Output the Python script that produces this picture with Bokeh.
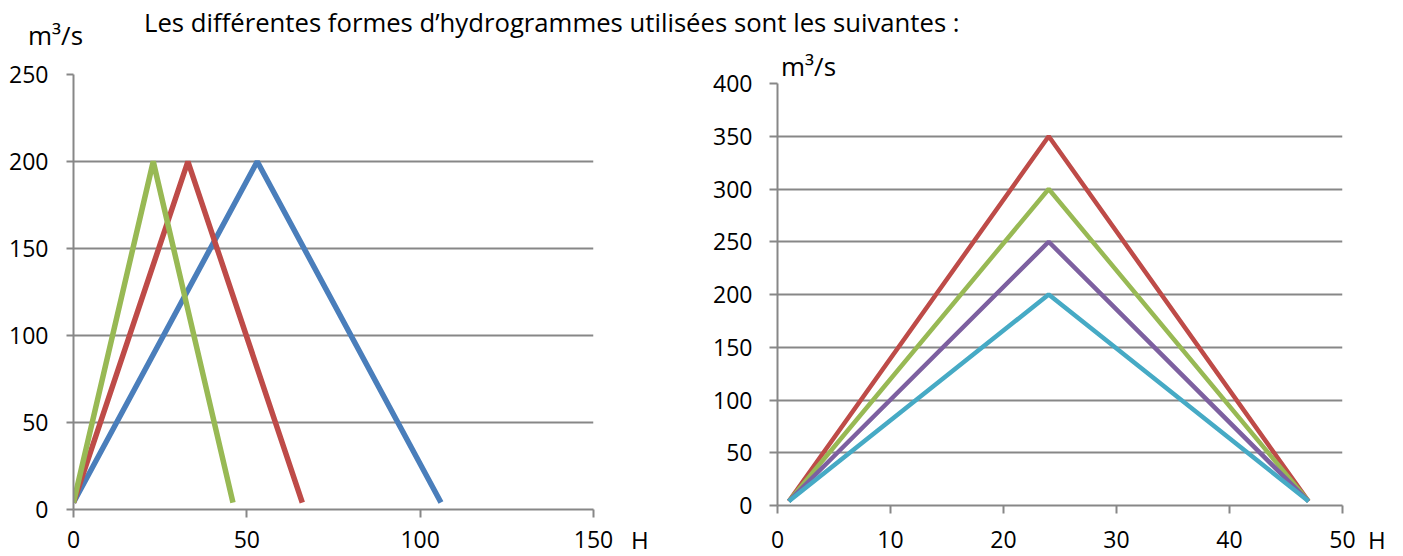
from bokeh.plotting import figure
from bokeh.models import Range1d, FixedTicker, ColumnDataSource
from bokeh.embed import file_html
from bokeh.resources import INLINE

# ---------------- data ----------------
title_text = "Les différentes formes d’hydrogrammes utilisées sont les suivantes :"
unit_text = "m³/s"
xunit_text = "H"

# left chart (hours, m3/s) - vertices of the triangular hydrographs
left_blue_x = [0, 53, 106]
left_blue_y = [4, 200, 4]
left_red_x = [0, 33, 66]
left_red_y = [4, 200, 4]
left_green_x = [0, 23, 46]
left_green_y = [4, 200, 4]
left_xticks = [0, 50, 100, 150]
left_yticks = [0, 50, 100, 150, 200, 250]

# right chart
right_x = [1, 24, 47]
right_red_y = [4, 350, 4]
right_green_y = [4, 300, 4]
right_purple_y = [4, 250, 4]
right_cyan_y = [4, 200, 4]
right_xticks = [0, 10, 20, 30, 40, 50]
right_yticks = [0, 50, 100, 150, 200, 250, 300, 350, 400]

# ---------------- style ----------------
GRID = "#878787"
FONT = "Open Sans"
FS = "23px"
BLUE = "#4A7EBB"
RED = "#BE4B48"
GREEN = "#98B954"
PURPLE = "#7D60A0"
CYAN = "#46AAC5"


def style(p, xticks, yticks):
    p.xgrid.visible = False
    p.ygrid.grid_line_color = GRID
    p.ygrid.grid_line_width = 2
    p.ygrid.ticker = FixedTicker(ticks=yticks)
    p.outline_line_color = None
    p.background_fill_color = "white"
    p.border_fill_color = "white"
    for ax in (p.xaxis[0], p.yaxis[0]):
        ax.axis_line_color = GRID
        ax.axis_line_width = 2
        ax.major_tick_line_color = GRID
        ax.major_tick_line_width = 2
        ax.major_tick_in = 0
        ax.minor_tick_line_color = None
        ax.major_label_text_font = FONT
        ax.major_label_text_font_size = FS
        ax.major_label_text_color = "black"
    p.xaxis[0].ticker = FixedTicker(ticks=xticks)
    p.yaxis[0].ticker = FixedTicker(ticks=yticks)
    p.xaxis[0].major_tick_out = 8


# ---------------- left chart ----------------
p1 = figure(frame_width=520, frame_height=435,
            min_border_left=73, min_border_right=40,
            min_border_top=74, min_border_bottom=47,
            x_range=Range1d(0, 150), y_range=Range1d(0, 250),
            output_backend="svg", toolbar_location=None)
style(p1, left_xticks, left_yticks)
p1.yaxis[0].major_tick_out = 7
p1.xaxis[0].major_label_standoff = 13
p1.yaxis[0].major_label_standoff = 18

for xs, ys, c in ((left_blue_x, left_blue_y, BLUE),
                  (left_red_x, left_red_y, RED),
                  (left_green_x, left_green_y, GREEN)):
    src = ColumnDataSource(dict(x=xs, y=ys))
    p1.line("x", "y", source=src, line_color=c, line_width=5.5)

# ---------------- right chart ----------------
p2 = figure(frame_width=565, frame_height=422,
            min_border_left=87, min_border_right=30,
            min_border_top=83, min_border_bottom=51,
            x_range=Range1d(0, 50), y_range=Range1d(0, 400),
            output_backend="svg", toolbar_location=None)
style(p2, right_xticks, right_yticks)
p2.yaxis[0].major_tick_out = 8
p2.xaxis[0].major_label_standoff = 17
p2.yaxis[0].major_label_standoff = 17

for ys, c in ((right_red_y, RED), (right_green_y, GREEN),
              (right_purple_y, PURPLE), (right_cyan_y, CYAN)):
    src = ColumnDataSource(dict(x=right_x, y=ys))
    p2.line("x", "y", source=src, line_color=c, line_width=4.5)

# ---------------- page: charts side by side, texts outside the frames ----------------
TEMPLATE = (
    "{% block postamble %}<style>"
    "body{overflow:hidden;}"
    ".chart{position:absolute;top:0;}"
    ".txt{position:absolute;z-index:10;font-family:'Open Sans';color:#000;"
    "white-space:nowrap;line-height:1;}"
    "</style>{% endblock %}"
    "{% block contents %}{% from macros import embed %}"
    "{% for root in roots %}"
    "<div class=\"chart\" style=\"left:{{ [0, 690][loop.index0] }}px;\">{{ embed(root) }}</div>"
    "{% endfor %}"
    "<div class=\"txt\" style=\"left:144px;top:10px;font-size:25.7px;\">" + title_text + "</div>"
    "<div class=\"txt\" style=\"left:28px;top:22px;font-size:26px;\">" + unit_text + "</div>"
    "<div class=\"txt\" style=\"left:779px;top:53px;width:76px;height:32px;"
    "padding-left:2px;background:#fff;font-size:26px;\">" + unit_text + "</div>"
    "<div class=\"txt\" style=\"left:631px;top:528px;font-size:24px;\">" + xunit_text + "</div>"
    "<div class=\"txt\" style=\"left:1368px;top:528px;font-size:24px;\">" + xunit_text + "</div>"
    "{% endblock %}"
)

open("out.html", "w", encoding="utf-8").write(
    file_html([p1, p2], INLINE, template=TEMPLATE))
